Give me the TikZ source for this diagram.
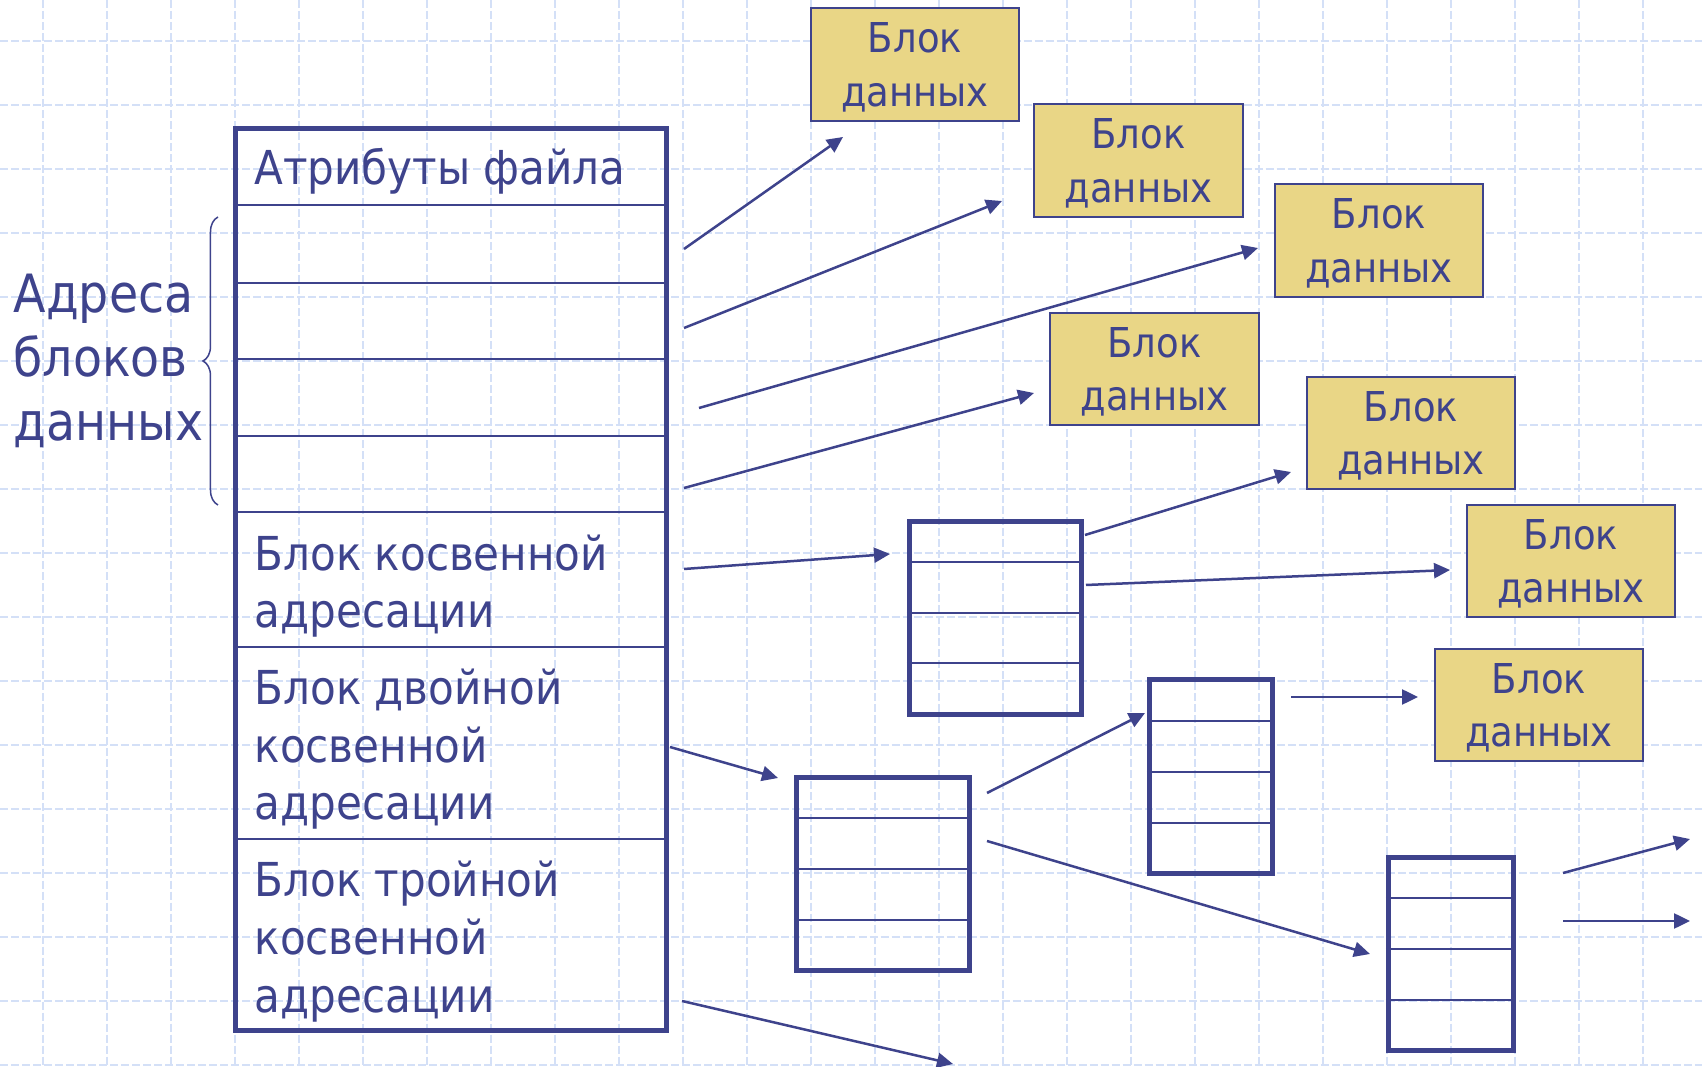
\documentclass[tikz,border=0pt]{standalone}
\usepackage{fontspec}
\setmainfont{DejaVu Sans Condensed}
\usetikzlibrary{arrows.meta,decorations.pathreplacing}

\definecolor{sinij}{RGB}{62,67,140}
\definecolor{zhelt}{RGB}{233,214,134}
\definecolor{setka}{RGB}{212,224,247}

\tikzset{
  ramka/.style={draw=sinij, line width=0.05cm, inner sep=0pt},
  razdel/.style={draw=sinij, line width=0.025cm},
  blok/.style={draw=sinij, line width=0.02cm, fill=zhelt, inner sep=0pt,
    minimum width=2.08cm, minimum height=1.12cm, align=center, text=sinij,
    text depth=-0.1cm, font=\fontsize{11.7}{15.1}\selectfont},
  nadpis/.style={anchor=base west, align=left, text=sinij, inner sep=0pt,
    font=\fontsize{13.3}{16.4}\selectfont},
  strelka/.style={draw=sinij, line width=0.025cm,
    -{Triangle[length=0.16cm,width=0.15cm]}},
  linija/.style={draw=setka, line width=0.015cm, dash pattern=on 0.08cm off 0.03cm}
}

\begin{document}
\begin{tikzpicture}[x=0.01cm, y=-0.01cm]
\fill[white] (0,0) rectangle (1702,1067);
\useasboundingbox (0,0) rectangle (1702,1067);

\foreach \x in {43,107,...,1702}
  \draw[linija] (\x,0) -- (\x,1067);
\foreach \y in {41,105,...,1067}
  \draw[linija] (0,\y) -- (1702,\y);          % сетка

\node[ramka, minimum width=4.31cm, minimum height=9.02cm] (glav) at (451,579.5) {};
\foreach \y in {205,283,359,436,512,647,839}
  \draw[razdel] (glav.west |- 0,\y) -- (glav.east |- 0,\y);   % строки

% base = последняя строка
\node[nadpis] (atr) at (254,185) {Атрибуты файла};
\node[nadpis] (kosvt) at (254,628) {Блок косвенной\\адресации};
\node[nadpis] (dvt) at (254,820) {Блок двойной\\косвенной\\адресации};
\node[nadpis] (trt) at (254,1012) {Блок тройной\\косвенной\\адресации};

\node[nadpis, font=\fontsize{15}{18.2}\selectfont] (adr) at (13,441) {Адреса\\блоков\\данных};
\draw[sinij, line width=0.015cm, decorate, decoration={brace, amplitude=0.15cm}]
  (218,505) -- (218,217);                   % скобка

\foreach \n/\cx/\cy/\w/\ya/\yb/\yc in {kosv/995.5/618/1.72/562/613/663,
    dv1/883/874/1.73/818/869/920, dv2/1211/776.5/1.23/721/772/823,
    tr1/1451/954/1.25/898/949/1000}
{
  \node[ramka, minimum width=\w cm, minimum height=1.93cm] (\n) at (\cx,\cy) {};
  \foreach \y in {\ya,\yb,\yc}
    \draw[razdel] (\n.west |- 0,\y) -- (\n.east |- 0,\y);
}                                           % косвенные блоки

\foreach \n/\cx/\cy in {b1/915/64.5, b2/1138.5/160.5, b3/1379/240.5,
    b4/1154.5/369, b5/1411/433, b6/1571/561, b7/1539/705}
  \node[blok] (\n) at (\cx,\cy) {Блок\\данных};   % блоки данных

\foreach \i/\sx/\sy/\tx/\ty in {1/684/249/843/137, 2/684/328/1002/201,
    3/699/408/1258/248, 4/684/488/1034/393, 5/1085/535/1291/472,
    6/1086/585/1450/570, 7/684/569/890/554, 8/670/747/778/778,
    9/987/793/1145/713, 10/987/841/1370/954, 11/1291/697/1418/697,
    12/1563/873/1690/839, 13/1563/921/1690/921, 14/682/1001/953/1064}
{
  \coordinate (s\i) at (\sx,\sy);
  \coordinate (t\i) at (\tx,\ty);
}
\foreach \i in {1,...,14}
  \draw[strelka] (s\i) -- (t\i);            % стрелки
\end{tikzpicture}
\end{document}
